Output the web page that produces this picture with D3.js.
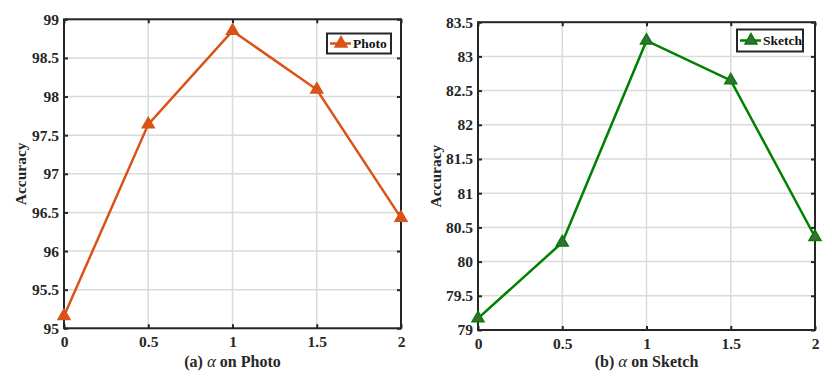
<!DOCTYPE html>
<html>
<head>
<meta charset="utf-8">
<script src="https://cdn.jsdelivr.net/npm/d3@7"></script>
<style>
  body { margin: 0; background: #fff; }
  svg text { font-family: "Liberation Serif", "Times New Roman", serif; font-weight: bold; }
</style>
</head>
<body>
<div class="container"></div>
<script>
var alphas = [0, 0.5, 1, 1.5, 2];
var photoAcc = [95.16, 97.64, 98.85, 98.09, 96.43];
var sketchAcc = [79.17, 80.28, 83.23, 82.65, 80.36];
var xTicks = [0, 0.5, 1, 1.5, 2];
var photoTicks = [95, 95.5, 96, 96.5, 97, 97.5, 98, 98.5, 99];
var sketchTicks = [79, 79.5, 80, 80.5, 81, 81.5, 82, 82.5, 83, 83.5];

var FONT = 'Liberation Serif';
var svg = d3.select('.container').append('svg').attr('width', 832).attr('height', 381)
  .attr('font-family', FONT);

var panels = [
  { left: 64, right: 401, top: 19.3, bottom: 328.3, dom: [95, 99], ticks: photoTicks, vals: photoAcc,
    name: 'Photo', color: '#D95319', face: '#D95319', ylabX: 21, title: '(a) ', titleEnd: ' on Photo',
    legend: [327, 33.5, 64, 20] },
  { left: 478, right: 815, top: 22.2, bottom: 330, dom: [79, 83.5], ticks: sketchTicks, vals: sketchAcc,
    name: 'Sketch', color: '#008000', face: '#3d6b3d', ylabX: 436, title: '(b) ', titleEnd: ' on Sketch',
    legend: [737, 29.5, 66, 22] }
];

panels.forEach(function(p){
  var x = d3.scaleLinear().domain([0, 2]).range([p.left, p.right]);
  var y = d3.scaleLinear().domain(p.dom).range([p.bottom, p.top]);
  var g = svg.append('g');

  // grid
  g.selectAll('.vg').data(xTicks).enter().append('line')
    .attr('x1', function(d){ return x(d); }).attr('x2', function(d){ return x(d); })
    .attr('y1', p.top).attr('y2', p.bottom)
    .attr('stroke', '#dadada').attr('stroke-width', 1.5);
  g.selectAll('.hg').data(p.ticks).enter().append('line')
    .attr('y1', function(d){ return y(d); }).attr('y2', function(d){ return y(d); })
    .attr('x1', p.left).attr('x2', p.right)
    .attr('stroke', '#dadada').attr('stroke-width', 1.5);

  // axes with inward ticks
  var fmt = function(d){ return String(d); };
  g.append('g').attr('transform', 'translate(0,' + p.bottom + ')')
    .call(d3.axisBottom(x).tickValues(xTicks).tickSize(-4).tickPadding(8).tickFormat(fmt));
  g.append('g').attr('transform', 'translate(0,' + p.top + ')')
    .call(d3.axisTop(x).tickValues(xTicks).tickSize(-4).tickFormat(''));
  g.append('g').attr('transform', 'translate(' + p.left + ',0)')
    .call(d3.axisLeft(y).tickValues(p.ticks).tickSize(-4).tickPadding(5).tickFormat(fmt));
  g.append('g').attr('transform', 'translate(' + p.right + ',0)')
    .call(d3.axisRight(y).tickValues(p.ticks).tickSize(-4).tickFormat(''));
  g.selectAll('.domain').remove();
  g.selectAll('g').attr('font-family', FONT);
  g.selectAll('.tick line').attr('stroke', '#262626').attr('stroke-width', 2);
  g.selectAll('.tick text').attr('fill', '#262626').attr('font-size', 15.5);

  g.append('rect').attr('x', p.left).attr('y', p.top)
    .attr('width', p.right - p.left).attr('height', p.bottom - p.top)
    .attr('fill', 'none').attr('stroke', '#262626').attr('stroke-width', 2);

  // line + markers
  var line = d3.line().x(function(d, i){ return x(alphas[i]); }).y(function(d){ return y(d); });
  g.append('path').datum(p.vals).attr('d', line)
    .attr('fill', 'none').attr('stroke', p.color).attr('stroke-width', 2.5);
  var tri = d3.symbol().type(d3.symbolTriangle).size(62);
  g.selectAll('.mk').data(p.vals).enter().append('path')
    .attr('d', tri)
    .attr('transform', function(d, i){ return 'translate(' + x(alphas[i]) + ',' + y(d) + ')'; })
    .attr('fill', p.face).attr('stroke', p.color).attr('stroke-width', 1.5);

  // y label
  g.append('text').attr('transform', 'translate(' + p.ylabX + ',' + ((p.top + p.bottom) / 2) + ') rotate(-90)')
    .attr('text-anchor', 'middle').attr('dy', '0.35em').attr('font-size', 15.5).attr('fill', '#262626')
    .text('Accuracy');

  // title
  var t = g.append('text').attr('x', (p.left + p.right) / 2).attr('y', 367)
    .attr('text-anchor', 'middle').attr('font-size', 16).attr('fill', '#262626');
  t.append('tspan').text(p.title);
  t.append('tspan').attr('font-style', 'italic').attr('font-weight', 'normal').attr('font-size', 17).text('\u03B1');
  t.append('tspan').text(p.titleEnd);

  // legend
  var L = p.legend;
  g.append('rect').attr('x', L[0]).attr('y', L[1]).attr('width', L[2]).attr('height', L[3])
    .attr('fill', '#fff').attr('stroke', '#262626').attr('stroke-width', 2);
  var ly = L[1] + L[3] / 2;
  g.append('line').attr('x1', L[0] + 3).attr('x2', L[0] + 24).attr('y1', ly).attr('y2', ly)
    .attr('stroke', p.color).attr('stroke-width', 2.5);
  g.append('path').attr('d', tri).attr('transform', 'translate(' + (L[0] + 14) + ',' + ly + ')')
    .attr('fill', p.face).attr('stroke', p.color).attr('stroke-width', 1.5);
  g.append('text').attr('x', L[0] + 26).attr('y', ly).attr('dy', '0.35em')
    .attr('font-size', 13.5).attr('fill', '#111').text(p.name);
});
</script>
</body>
</html>
